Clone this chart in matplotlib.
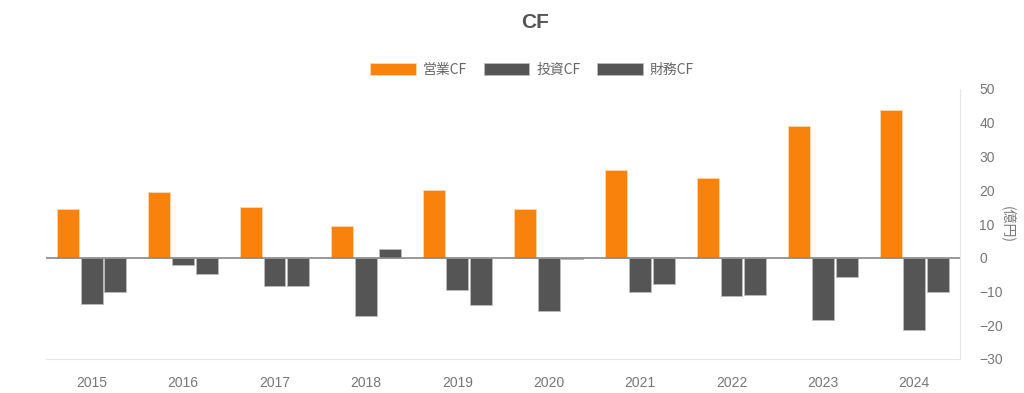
import matplotlib
matplotlib.use("Agg")
import matplotlib.pyplot as plt
import numpy as np

plt.rcParams['font.family'] = ['Liberation Sans', 'Noto Sans CJK JP', 'DejaVu Sans']

years = ['2015', '2016', '2017', '2018', '2019', '2020', '2021', '2022', '2023', '2024']
operating_cf = [14.5, 19.6, 15.0, 9.3, 20.0, 14.4, 26.1, 23.6, 39.1, 43.7]
investing_cf = [-13.6, -2.1, -8.3, -17.4, -9.7, -15.7, -10.0, -11.2, -18.3, -21.5]
financing_cf = [-10.1, -4.7, -8.5, 2.6, -14.1, -0.5, -7.7, -11.1, -5.8, -10.0]
series_names = ['営業CF', '投資CF', '財務CF']
y_ticks = [-30, -20, -10, 0, 10, 20, 30, 40, 50]

orange = '#F8820B'
gray = '#555555'
text_gray = '#777777'

fig = plt.figure(figsize=(10.24, 3.93), dpi=100)
ax = fig.add_axes([46/1024, 1-359/393, (960-46)/1024, (359-89)/393])

x = np.arange(len(years))
w = 0.24
off = 0.26
ax.bar(x - off, operating_cf, w, color=orange, edgecolor='#FDD9B0', linewidth=0.6, label=series_names[0], zorder=3)
ax.bar(x, investing_cf, w, color=gray, edgecolor='#BBBBBB', linewidth=0.6, label=series_names[1], zorder=3)
ax.bar(x + off, financing_cf, w, color=gray, edgecolor='#BBBBBB', linewidth=0.6, label=series_names[2], zorder=3)

ax.axhline(0, color='#888888', linewidth=1.2, zorder=4)

ax.set_xlim(-0.5, len(years) - 0.5)
ax.set_ylim(-30, 50)
ax.set_yticks(y_ticks)
ax.set_xticks(x)
ax.set_xticklabels(years)

ax.yaxis.tick_right()
ax.yaxis.set_label_position('right')
for s in ['top', 'left']:
    ax.spines[s].set_visible(False)
ax.spines['right'].set_color('#E6E6E6')
ax.spines['bottom'].set_color('#E6E6E6')
ax.tick_params(axis='both', length=0, colors=text_gray, labelsize=10)
ax.tick_params(axis='y', pad=14)
ax.tick_params(axis='x', pad=12)

ax.set_ylabel('(億円)', rotation=-90, color=text_gray, fontsize=10, labelpad=9,
              family=['Noto Sans CJK JP', 'DejaVu Sans'])

fig.text(535/1024, 1-22/393, 'CF', ha='center', va='center', fontsize=15,
         fontweight='bold', color='#555555')

leg = fig.legend(loc='center', bbox_to_anchor=(532/1024, 1-70/393), ncol=3, frameon=False,
                 handlelength=3.3, handleheight=1.0, columnspacing=1.2, handletextpad=0.5,
                 prop={'family': ['Noto Sans CJK JP', 'DejaVu Sans'], 'size': 10})
for t in leg.get_texts():
    t.set_color('#666666')

fig.savefig('out.png', dpi=100)
